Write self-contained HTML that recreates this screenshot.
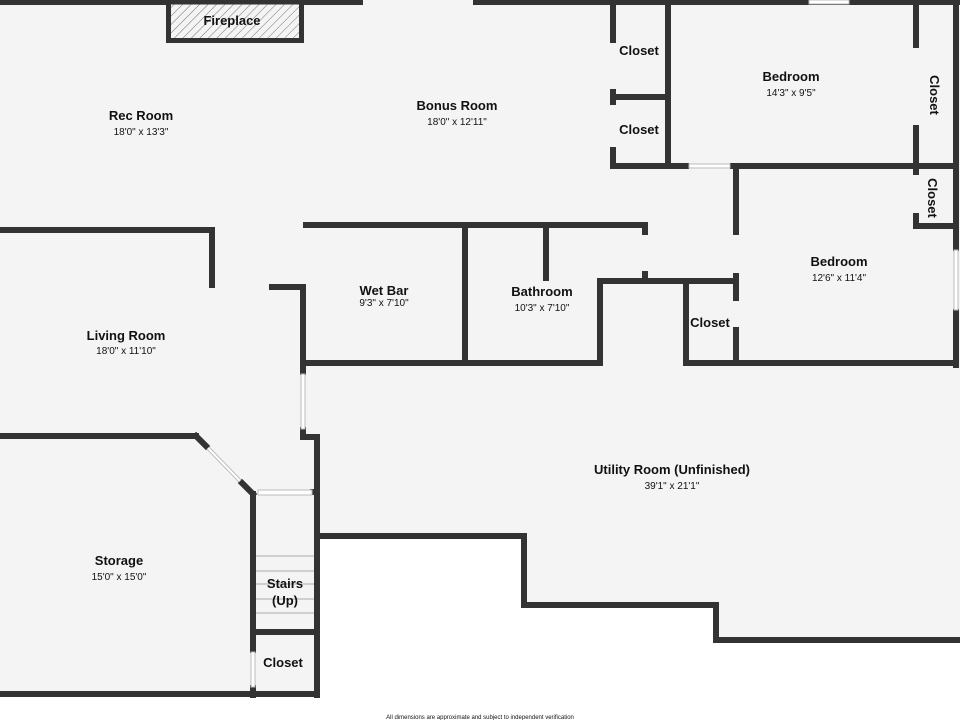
<!DOCTYPE html>
<html><head><meta charset="utf-8"><style>
html,body{margin:0;padding:0;background:#fff;}
svg{display:block;}
text{font-family:"Liberation Sans",sans-serif;fill:#111;text-anchor:middle;}
.n{font-size:13px;font-weight:bold;}
.d{font-size:10px;}
</style></head><body>
<svg width="960" height="720" viewBox="0 0 960 720" xmlns="http://www.w3.org/2000/svg">
<defs>
<pattern id="h" width="6" height="6" patternUnits="userSpaceOnUse" patternTransform="rotate(45)">
<rect width="6" height="6" fill="#f4f4f4"/><line x1="0" y1="0" x2="0" y2="6" stroke="#777" stroke-width="1"/>
</pattern>
</defs>
<polygon points="0,0 960,0 960,642 716,642 716,607 524,607 524,536 318,536 318,695 0,695" fill="#f4f4f4"/>
<g stroke="#333" stroke-width="6" fill="none" stroke-linecap="square">
<line x1="0" y1="2" x2="360" y2="2"/><line x1="476" y1="2" x2="960" y2="2"/>
<line x1="956" y1="0" x2="956" y2="248"/><line x1="956" y1="312" x2="956" y2="365"/>
<line x1="613" y1="0" x2="613" y2="40"/><line x1="613" y1="92" x2="613" y2="102"/><line x1="613" y1="150" x2="613" y2="166"/>
<line x1="613" y1="97" x2="668" y2="97"/>
<line x1="668" y1="0" x2="668" y2="166"/>
<line x1="613" y1="166" x2="686" y2="166"/><line x1="733" y1="166" x2="956" y2="166"/>
<line x1="916" y1="0" x2="916" y2="45"/><line x1="916" y1="128" x2="916" y2="172"/><line x1="916" y1="216" x2="916" y2="226"/>
<line x1="916" y1="226" x2="956" y2="226"/>
<line x1="736" y1="169" x2="736" y2="232"/><line x1="736" y1="276" x2="736" y2="298"/><line x1="736" y1="330" x2="736" y2="363"/>
<line x1="686" y1="363" x2="956" y2="363"/>
<line x1="686" y1="283" x2="686" y2="363"/>
<line x1="600" y1="281" x2="736" y2="281"/>
<line x1="306" y1="225" x2="645" y2="225"/>
<line x1="645" y1="225" x2="645" y2="232"/><line x1="645" y1="274" x2="645" y2="278"/>
<line x1="465" y1="225" x2="465" y2="362"/>
<line x1="546" y1="228" x2="546" y2="278"/>
<line x1="600" y1="281" x2="600" y2="363"/>
<line x1="303" y1="363" x2="600" y2="363"/>
<line x1="272" y1="287" x2="303" y2="287"/>
<line x1="303" y1="287" x2="303" y2="372"/>
<line x1="303" y1="430" x2="303" y2="437"/>
<line x1="303" y1="437" x2="317" y2="437"/>
<line x1="317" y1="437" x2="317" y2="695"/>
<line x1="0" y1="230" x2="212" y2="230"/><line x1="212" y1="230" x2="212" y2="285"/>
<line x1="0" y1="436" x2="196" y2="436"/>
<line x1="196" y1="436" x2="206" y2="446"/>
<line x1="242" y1="483" x2="253" y2="494"/>
<line x1="253" y1="494" x2="253" y2="650"/><line x1="253" y1="688" x2="253" y2="695"/>
<line x1="313" y1="492" x2="317" y2="492"/>
<line x1="253" y1="632" x2="317" y2="632"/>
<line x1="0" y1="694" x2="317" y2="694"/>
<line x1="317" y1="536" x2="524" y2="536"/>
<line x1="524" y1="536" x2="524" y2="605"/>
<line x1="524" y1="605" x2="716" y2="605"/>
<line x1="716" y1="605" x2="716" y2="640"/>
<line x1="716" y1="640" x2="960" y2="640"/>
</g>
<g stroke="#bbb" stroke-width="1" fill="#fff">
<rect x="258" y="490" width="54" height="5"/>
<rect x="809" y="0" width="40" height="4"/>
<rect x="954" y="250" width="4" height="60"/>
<rect x="689" y="164" width="41" height="4"/>
<rect x="301" y="374" width="4" height="55"/>
<rect x="251" y="652" width="4" height="35"/>
</g>
<line x1="208" y1="448" x2="240" y2="481" stroke="#bbb" stroke-width="4"/>
<line x1="208" y1="448" x2="240" y2="481" stroke="#fff" stroke-width="2"/>
<g stroke="#aaa" stroke-width="1">
<line x1="256" y1="556" x2="314" y2="556"/><line x1="256" y1="571" x2="314" y2="571"/>
<line x1="256" y1="584" x2="314" y2="584"/><line x1="256" y1="599" x2="314" y2="599"/>
<line x1="256" y1="613" x2="314" y2="613"/>
</g>
<rect x="168.5" y="2" width="133" height="38.5" fill="url(#h)" stroke="#333" stroke-width="5"/>
<text class="n" x="232" y="25">Fireplace</text>
<text class="n" x="141" y="120">Rec Room</text><text class="d" x="141" y="135">18'0" x 13'3"</text>
<text class="n" x="457" y="110">Bonus Room</text><text class="d" x="457" y="125">18'0" x 12'11"</text>
<text class="n" x="639" y="55">Closet</text>
<text class="n" x="639" y="134">Closet</text>
<text class="n" x="791" y="81">Bedroom</text><text class="d" x="791" y="96">14'3" x 9'5"</text>
<text class="n" transform="translate(930,95) rotate(90)">Closet</text>
<text class="n" transform="translate(928,198) rotate(90)">Closet</text>
<text class="n" x="839" y="266">Bedroom</text><text class="d" x="839" y="281">12'6" x 11'4"</text>
<text class="n" x="384" y="295">Wet Bar</text><text class="d" x="384" y="306">9'3" x 7'10"</text>
<text class="n" x="542" y="296">Bathroom</text><text class="d" x="542" y="311">10'3" x 7'10"</text>
<text class="n" x="710" y="327">Closet</text>
<text class="n" x="126" y="340">Living Room</text><text class="d" x="126" y="354">18'0" x 11'10"</text>
<text class="n" x="672" y="474">Utility Room (Unfinished)</text><text class="d" x="672" y="489">39'1" x 21'1"</text>
<text class="n" x="119" y="565">Storage</text><text class="d" x="119" y="580">15'0" x 15'0"</text>
<text class="n" x="285" y="588">Stairs</text><text class="n" x="285" y="605">(Up)</text>
<text class="n" x="283" y="667">Closet</text>
<text x="480" y="719" style="font-size:6px;">All dimensions are approximate and subject to independent verification</text>
</svg>
</body></html>
